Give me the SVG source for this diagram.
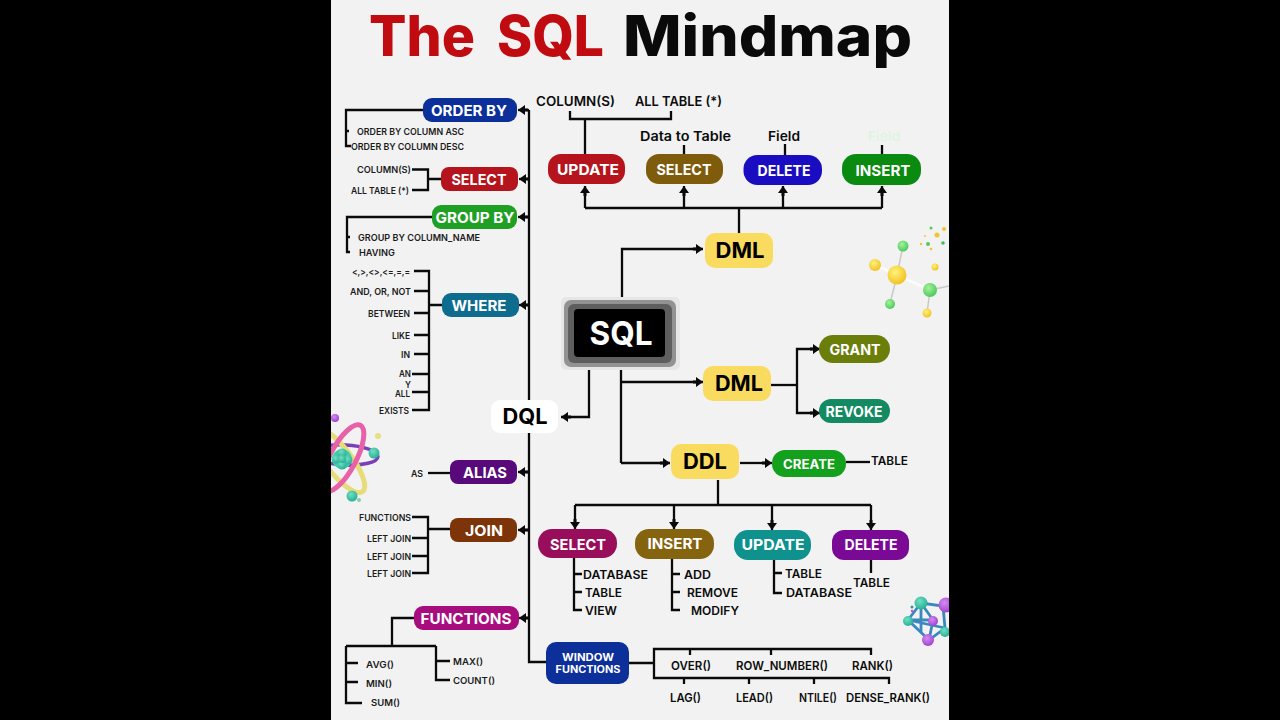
<svg xmlns="http://www.w3.org/2000/svg" width="1280" height="720" viewBox="0 0 1280 720">
<style>
text{font-family:"Inter","Open Sans","Liberation Sans",sans-serif;font-weight:700}
.title{font-size:56px;font-weight:800}
.n{fill:#fff;font-size:15px;text-anchor:middle;dominant-baseline:central}
.y{fill:#000;font-size:22px;text-anchor:middle;dominant-baseline:central}
.s{fill:#1c1c1c;font-size:9.500px;font-weight:600;dominant-baseline:central}
.m{fill:#0c0c0c;font-size:12px;font-weight:600;dominant-baseline:central}
.c{fill:none;stroke:#0a0a0a;stroke-width:2.300}
.a{marker-end:url(#ah)}
</style>
<defs>
<marker id="ah" markerUnits="userSpaceOnUse" markerWidth="11" markerHeight="12" refX="10" refY="6" orient="auto"><path d="M0 4.500H3V1L10 6L3 11V7.500H0Z" fill="#0a0a0a"/></marker>
<radialGradient id="gy" cx=".4" cy=".35" r=".7"><stop offset="0" stop-color="#fff27a"/><stop offset="1" stop-color="#f0bf20"/></radialGradient>
<radialGradient id="gg" cx=".4" cy=".35" r=".7"><stop offset="0" stop-color="#a6f09a"/><stop offset="1" stop-color="#45c85a"/></radialGradient>
<radialGradient id="gt" cx=".4" cy=".35" r=".7"><stop offset="0" stop-color="#6fe0c0"/><stop offset="1" stop-color="#25ab95"/></radialGradient>
<radialGradient id="gp" cx=".4" cy=".35" r=".7"><stop offset="0" stop-color="#d68aee"/><stop offset="1" stop-color="#9a3fd0"/></radialGradient>
</defs>
<rect width="1280" height="720" fill="#000"/>
<rect x="331" width="618" height="720" fill="#f2f2f2"/>
<g id="title"><text class="title" x="369" y="56" textLength="106" lengthAdjust="spacingAndGlyphs" fill="#c00b10">The</text><text class="title" x="497" y="56" textLength="107" lengthAdjust="spacingAndGlyphs" fill="#c00b10">SQL</text><text class="title" x="623" y="56" textLength="289" lengthAdjust="spacingAndGlyphs" fill="#0a0a0a">Mindmap</text></g>

<g id="decor-molecule">
<g fill="none" stroke-linecap="round"><path d="M897 275L903 246M897 275L890 304M930 290L927 313M930 290L949 286" stroke="#c9c9c9" stroke-width="1.500"/><path d="M897 275L875 265M897 275L930 290" stroke="#fbfbfb" stroke-width="3"/></g>
<circle cx="903" cy="246" r="5.500" fill="url(#gg)"/><circle cx="875" cy="265" r="6" fill="url(#gy)"/><circle cx="897" cy="275" r="9.500" fill="url(#gy)"/><circle cx="890" cy="304" r="5" fill="url(#gg)"/><circle cx="930" cy="290" r="7" fill="url(#gg)"/><circle cx="927" cy="313" r="4.500" fill="url(#gy)"/><circle cx="935" cy="267" r="3.500" fill="url(#gy)"/>
<circle cx="937" cy="235" r="2.500" fill="#f0c530"/><circle cx="928" cy="244" r="2" fill="#55c860"/><circle cx="943" cy="243" r="1.800" fill="#45b860"/><circle cx="931" cy="228" r="1.500" fill="#55c860"/><circle cx="944" cy="229" r="2" fill="#f0c530"/><circle cx="921" cy="244" r="1.200" fill="#f0c530"/><circle cx="925" cy="236" r="1" fill="#f0c530"/><circle cx="931" cy="249" r="1.300" fill="#f0c530"/>
</g>
<g id="decor-atom">
<ellipse cx="345" cy="455" rx="33" ry="10" fill="none" stroke="#7b3fb8" stroke-width="3.500" transform="rotate(3 345 455)"/>
<ellipse cx="338" cy="460" rx="13" ry="40" fill="none" stroke="#e6dc78" stroke-width="5" transform="rotate(-38 338 460)"/>
<ellipse cx="343" cy="458" rx="13" ry="37" fill="none" stroke="#e860a8" stroke-width="5" transform="rotate(28 343 458)"/>
<circle cx="342" cy="459" r="10" fill="#3fcfa8"/><circle cx="336" cy="459" r="4.500" fill="url(#gt)"/><circle cx="348" cy="460" r="4.500" fill="url(#gt)"/><circle cx="342" cy="453" r="4.500" fill="url(#gt)"/><circle cx="342" cy="465" r="4.500" fill="url(#gt)"/><circle cx="342" cy="459" r="4" fill="url(#gt)"/>
<circle cx="374" cy="453" r="5.500" fill="url(#gt)"/><circle cx="335" cy="418" r="4" fill="url(#gp)"/><circle cx="378" cy="436" r="3" fill="#e6e080"/><circle cx="352" cy="496" r="5.500" fill="url(#gt)"/><circle cx="359" cy="500" r="2" fill="#7fd0b8"/>
</g>
<g id="decor-mesh">
<g fill="none" stroke="#3a88bd" stroke-width="2.800"><path d="M921 603L908 620L929 640L945 628L943 606Z"/><path d="M921 603L933 620L929 640M908 620L933 620M921 603L921 632M908 620L945 628"/></g>
<circle cx="921" cy="603" r="6.500" fill="url(#gt)"/><circle cx="908" cy="621" r="5" fill="url(#gt)"/><circle cx="946" cy="605" r="7.500" fill="url(#gp)"/><circle cx="933" cy="621" r="5" fill="url(#gp)"/><circle cx="928" cy="640" r="6" fill="url(#gp)"/><circle cx="945" cy="632" r="5" fill="url(#gt)"/><circle cx="912" cy="607" r="1.500" fill="#3d8f9f"/><circle cx="912" cy="611" r="1.200" fill="#c050c0"/>
</g>

<g id="connectors">
<path class="c" d="M529 110V400M529 433V662H546"/>
<path class="c a" d="M529 110H518"/><path class="c a" d="M529 179H519"/><path class="c a" d="M529 217H518"/><path class="c a" d="M529 305H519"/><path class="c a" d="M529 472H518"/><path class="c a" d="M529 530H518"/><path class="c a" d="M529 618H519"/>
<path class="c" d="M423 110H346V146H351M346 131H349"/>
<path class="c" d="M441 179H428M412 169.500H428V190H412"/>
<path class="c" d="M432 217H347V252H350M347 237H350"/>
<path class="c" d="M442 305H429M414 271H429V410H412M414 291H429M414 313H429M414 335H429M414 354H429M412 374H429M412 392H429"/>
<path class="c" d="M450 473H428"/>
<path class="c" d="M450 529H428M412 517H428V573H412M412 538H428M412 556H428"/>
<path class="c" d="M414 618H392V646M346 646H436M346 646V703H362M346 663H358M346 682H358M436 646V680H450M436 661H450"/>
<path class="c" d="M629 663H654M871 655V649H654V678H889V684M690 649V655M771 649V655M684 678V684M749 678V684M814 678V684"/>
<path class="c" d="M570 111V119H671V111M585 119V154M684 145V154M785 144V155M882 145V154"/>
<path class="c" d="M585 208H882M739 208V233"/>
<path class="c a" d="M585 208V186"/><path class="c a" d="M684 208V186"/><path class="c a" d="M783 208V186"/><path class="c a" d="M882 208V186"/>
<path class="c a" d="M622 300V249H703"/>
<path class="c a" d="M589 370V417H561"/>
<path class="c" d="M621 370V463"/>
<path class="c a" d="M621 382H703"/>
<path class="c a" d="M621 463H670"/>
<path class="c" d="M771 385H797"/>
<path class="c a" d="M797 385V349H820"/>
<path class="c a" d="M797 385V413H820"/>
<path class="c a" d="M740 463H772"/>
<path class="c" d="M846 462H870"/>
<path class="c" d="M718 480V505M575 505H871"/>
<path class="c a" d="M575 505V529"/><path class="c a" d="M674 505V529"/><path class="c a" d="M772 505V530"/><path class="c a" d="M871 505V530"/>
<path class="c" d="M574 558V610H582M574 574H582M574 592H582"/>
<path class="c" d="M672 559V610H680M672 574H680M672 592H680"/>
<path class="c" d="M774 560V593H782M774 573H782"/>
<path class="c" d="M871 560V573"/>
</g>

<g id="sql"><rect x="561" y="297" width="119" height="73" rx="5" fill="#e6e6e6"/><rect x="564" y="300" width="112" height="67" rx="7" fill="#929292"/><rect x="568" y="304" width="104" height="59" rx="6" fill="#5e5e5e"/><rect x="574" y="309" width="91" height="48" rx="4" fill="#000"/><text x="621" y="333" font-size="33" fill="#fff" text-anchor="middle" dominant-baseline="central" textLength="63" lengthAdjust="spacingAndGlyphs">SQL</text></g>
<g id="dql"><rect x="491" y="400" width="67" height="33" rx="9" fill="#fff"/><text class="y" x="525" y="416" textLength="45" lengthAdjust="spacingAndGlyphs">DQL</text></g>
<g id="dml-top"><rect x="705" y="233" width="68" height="35" rx="10" fill="#f9db60"/><text class="y" x="740" y="250" textLength="49" lengthAdjust="spacingAndGlyphs">DML</text></g>
<g id="dml-mid"><rect x="703" y="366" width="68" height="35" rx="10" fill="#f9db60"/><text class="y" x="739" y="383" textLength="48" lengthAdjust="spacingAndGlyphs">DML</text></g>
<g id="ddl"><rect x="671" y="444" width="68" height="35" rx="10" fill="#f9db60"/><text class="y" x="705" y="461" textLength="44" lengthAdjust="spacingAndGlyphs">DDL</text></g>

<g id="order-by"><rect x="423" y="98" width="94" height="24" rx="9" fill="#0c2f9a"/><text class="n" x="469" y="110.500" textLength="76" lengthAdjust="spacingAndGlyphs">ORDER BY</text></g>
<g id="select-left"><rect x="441" y="167" width="77" height="24" rx="8" fill="#b5141c"/><text class="n" x="479" y="179.500" textLength="55" lengthAdjust="spacingAndGlyphs">SELECT</text></g>
<g id="group-by"><rect x="432" y="205" width="85" height="24" rx="9" fill="#1fa025"/><text class="n" x="475" y="217.500" textLength="79" lengthAdjust="spacingAndGlyphs">GROUP BY</text></g>
<g id="where"><rect x="442" y="293" width="77" height="24" rx="9" fill="#0e6d8e"/><text class="n" x="479" y="305.500" textLength="55" lengthAdjust="spacingAndGlyphs">WHERE</text></g>
<g id="alias"><rect x="450" y="460" width="67" height="24" rx="8" fill="#58097a"/><text class="n" x="485" y="472.500" textLength="44" lengthAdjust="spacingAndGlyphs">ALIAS</text></g>
<g id="join"><rect x="450" y="518" width="67" height="24" rx="8" fill="#7c3408"/><text class="n" x="484" y="530.500" textLength="38" lengthAdjust="spacingAndGlyphs">JOIN</text></g>
<g id="functions"><rect x="414" y="606" width="105" height="24" rx="9" fill="#a80d7e"/><text class="n" x="466" y="618.500" textLength="91" lengthAdjust="spacingAndGlyphs">FUNCTIONS</text></g>
<g id="window-functions"><rect x="546" y="642" width="83" height="42" rx="10" fill="#0c2f9a"/><text x="588" y="656.500" font-size="10" fill="#fff" text-anchor="middle" dominant-baseline="central" textLength="52" lengthAdjust="spacingAndGlyphs">WINDOW</text><text x="588" y="668.500" font-size="10" fill="#fff" text-anchor="middle" dominant-baseline="central" textLength="65" lengthAdjust="spacingAndGlyphs">FUNCTIONS</text></g>

<g id="update-top"><rect x="548" y="154" width="77" height="30" rx="13" fill="#b5141c"/><text class="n" x="588" y="169.500" textLength="62" lengthAdjust="spacingAndGlyphs">UPDATE</text></g>
<g id="select-top"><rect x="646" y="154" width="77" height="30" rx="13" fill="#7f5b0c"/><text class="n" x="684" y="169.500" textLength="55" lengthAdjust="spacingAndGlyphs">SELECT</text></g>
<g id="delete-top"><rect x="743.500" y="155" width="78.500" height="30" rx="14" fill="#1a0cc0"/><text class="n" x="784" y="170.500" textLength="53" lengthAdjust="spacingAndGlyphs">DELETE</text></g>
<g id="insert-top"><rect x="842" y="154" width="79" height="31" rx="14" fill="#0b8a10"/><text class="n" x="883" y="170" textLength="55" lengthAdjust="spacingAndGlyphs">INSERT</text></g>
<g id="grant"><rect x="819" y="335" width="71" height="28" rx="14" fill="#6b7e0a"/><text class="n" x="855" y="349" style="font-size:14px" textLength="51" lengthAdjust="spacingAndGlyphs">GRANT</text></g>
<g id="revoke"><rect x="819" y="399" width="71" height="24" rx="12" fill="#138a62"/><text class="n" x="854" y="411.500" style="font-size:14px" textLength="57" lengthAdjust="spacingAndGlyphs">REVOKE</text></g>
<g id="create"><rect x="772" y="450" width="74" height="27" rx="13" fill="#13a01c"/><text class="n" x="809" y="463.500" style="font-size:13px" textLength="52" lengthAdjust="spacingAndGlyphs">CREATE</text></g>
<g id="select-bottom"><rect x="538" y="529" width="79" height="29" rx="14" fill="#990e5a"/><text class="n" x="578" y="544.500" textLength="56" lengthAdjust="spacingAndGlyphs">SELECT</text></g>
<g id="insert-bottom"><rect x="635" y="529" width="79" height="30" rx="14" fill="#85640f"/><text class="n" x="675" y="543.500" textLength="55" lengthAdjust="spacingAndGlyphs">INSERT</text></g>
<g id="update-bottom"><rect x="734" y="530" width="77" height="30" rx="14" fill="#0f918e"/><text class="n" x="773" y="544.500" textLength="63" lengthAdjust="spacingAndGlyphs">UPDATE</text></g>
<g id="delete-bottom"><rect x="832" y="530" width="77" height="30" rx="12" fill="#7a0a96"/><text class="n" x="871" y="544.500" textLength="53" lengthAdjust="spacingAndGlyphs">DELETE</text></g>

<g id="labels-left">
<text class="s" x="357" y="131.500" textLength="107" lengthAdjust="spacingAndGlyphs">ORDER BY COLUMN ASC</text>
<text class="s" x="351" y="146" textLength="113" lengthAdjust="spacingAndGlyphs">ORDER BY COLUMN DESC</text>
<text class="s" x="357" y="169" textLength="54" lengthAdjust="spacingAndGlyphs">COLUMN(S)</text>
<text class="s" x="351" y="190" textLength="58" lengthAdjust="spacingAndGlyphs">ALL TABLE (*)</text>
<text class="s" x="358" y="237.500" textLength="122" lengthAdjust="spacingAndGlyphs">GROUP BY COLUMN_NAME</text>
<text class="s" x="359" y="252" textLength="36" lengthAdjust="spacingAndGlyphs">HAVING</text>
<text class="s" x="352" y="271" textLength="58" lengthAdjust="spacingAndGlyphs">&lt;,&gt;,&lt;&gt;,&lt;=,=,=</text>
<text class="s" x="350" y="291" textLength="61" lengthAdjust="spacingAndGlyphs">AND, OR, NOT</text>
<text class="s" x="368" y="313" textLength="42" lengthAdjust="spacingAndGlyphs">BETWEEN</text>
<text class="s" x="392" y="335" textLength="18" lengthAdjust="spacingAndGlyphs">LIKE</text>
<text class="s" x="401" y="354.500" textLength="9" lengthAdjust="spacingAndGlyphs">IN</text>
<text class="s" x="399" y="373.500" textLength="12" lengthAdjust="spacingAndGlyphs">AN</text>
<text class="s" x="405" y="384" textLength="6" lengthAdjust="spacingAndGlyphs">Y</text>
<text class="s" x="395" y="393.500" textLength="15" lengthAdjust="spacingAndGlyphs">ALL</text>
<text class="s" x="379" y="410" textLength="30" lengthAdjust="spacingAndGlyphs">EXISTS</text>
<text class="s" x="411" y="473" textLength="12" lengthAdjust="spacingAndGlyphs">AS</text>
<text class="s" x="359" y="517.500" textLength="52" lengthAdjust="spacingAndGlyphs">FUNCTIONS</text>
<text class="s" x="367" y="538.500" textLength="44" lengthAdjust="spacingAndGlyphs">LEFT JOIN</text>
<text class="s" x="367" y="556" textLength="44" lengthAdjust="spacingAndGlyphs">LEFT JOIN</text>
<text class="s" x="367" y="573" textLength="44" lengthAdjust="spacingAndGlyphs">LEFT JOIN</text>
<text class="s" x="366" y="664" textLength="28" lengthAdjust="spacingAndGlyphs">AVG()</text>
<text class="s" x="366" y="683" textLength="26" lengthAdjust="spacingAndGlyphs">MIN()</text>
<text class="s" x="371" y="702" textLength="29" lengthAdjust="spacingAndGlyphs">SUM()</text>
<text class="s" x="453" y="661" textLength="30" lengthAdjust="spacingAndGlyphs">MAX()</text>
<text class="s" x="453" y="680" textLength="42" lengthAdjust="spacingAndGlyphs">COUNT()</text>
</g>
<g id="labels-main">
<text class="m" x="536" y="101" textLength="79" lengthAdjust="spacingAndGlyphs" style="font-size:13px">COLUMN(S)</text>
<text class="m" x="635" y="101" textLength="87" lengthAdjust="spacingAndGlyphs" style="font-size:13px">ALL TABLE (*)</text>
<text class="m" x="640" y="136" textLength="91" lengthAdjust="spacingAndGlyphs" style="font-size:13px">Data to Table</text>
<text class="m" x="768" y="136" textLength="32" lengthAdjust="spacingAndGlyphs" style="font-size:13px">Field</text>
<text class="m" x="868" y="136" textLength="32" lengthAdjust="spacingAndGlyphs" style="font-size:13px;fill:#dff5e0">Field</text>
<text class="m" x="871" y="460.500" textLength="37" lengthAdjust="spacingAndGlyphs">TABLE</text>
<text class="m" x="583" y="574.500" textLength="65" lengthAdjust="spacingAndGlyphs">DATABASE</text>
<text class="m" x="585" y="592.500" textLength="37" lengthAdjust="spacingAndGlyphs">TABLE</text>
<text class="m" x="585" y="610.500" textLength="32" lengthAdjust="spacingAndGlyphs">VIEW</text>
<text class="m" x="684" y="574.500" textLength="27" lengthAdjust="spacingAndGlyphs">ADD</text>
<text class="m" x="687" y="592.500" textLength="51" lengthAdjust="spacingAndGlyphs">REMOVE</text>
<text class="m" x="691" y="610.500" textLength="48" lengthAdjust="spacingAndGlyphs">MODIFY</text>
<text class="m" x="785" y="573" textLength="37" lengthAdjust="spacingAndGlyphs">TABLE</text>
<text class="m" x="786" y="592" textLength="66" lengthAdjust="spacingAndGlyphs">DATABASE</text>
<text class="m" x="853" y="582" textLength="37" lengthAdjust="spacingAndGlyphs">TABLE</text>
<text class="m" x="671" y="665" textLength="40" lengthAdjust="spacingAndGlyphs">OVER()</text>
<text class="m" x="736" y="665" textLength="92" lengthAdjust="spacingAndGlyphs">ROW_NUMBER()</text>
<text class="m" x="852" y="665" textLength="41" lengthAdjust="spacingAndGlyphs">RANK()</text>
<text class="m" x="670" y="697" textLength="31" lengthAdjust="spacingAndGlyphs">LAG()</text>
<text class="m" x="736" y="697" textLength="37" lengthAdjust="spacingAndGlyphs">LEAD()</text>
<text class="m" x="799" y="697" textLength="38" lengthAdjust="spacingAndGlyphs">NTILE()</text>
<text class="m" x="846" y="697" textLength="84" lengthAdjust="spacingAndGlyphs">DENSE_RANK()</text>
</g>
<rect x="949" width="331" height="720" fill="#000"/>
<rect width="331" height="720" fill="#000"/>
</svg>
